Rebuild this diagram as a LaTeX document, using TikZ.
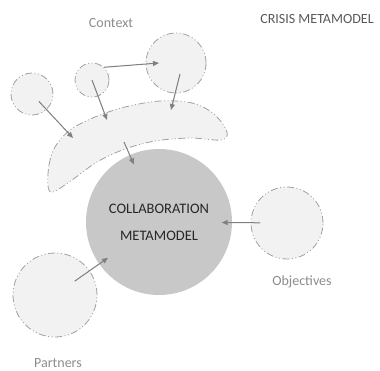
\documentclass[tikz,border=0pt]{standalone}
\usepackage{fontspec}
\setmainfont{Carlito}
\usepackage{tikz}
\usetikzlibrary{arrows.meta,calc}
\definecolor{circlefill}{RGB}{242,242,242}
\definecolor{circleline}{RGB}{160,160,160}
\definecolor{coremodel}{RGB}{200,200,200}
\definecolor{arrowgray}{RGB}{128,128,128}
\definecolor{labelgray}{RGB}{140,140,140}
\definecolor{titlegray}{RGB}{89,89,89}

\begin{document}
\begin{tikzpicture}[x=1pt,y=-1pt,
    dashdotdot/.style={draw=circleline,line width=0.8pt,dash pattern=on 7pt off 2.5pt on 1pt off 2.5pt on 1pt off 2.5pt},
    bubble/.style={circle,dashdotdot,fill=circlefill,inner sep=0pt},
    flow/.style={-{Triangle[length=6pt,width=5pt]},draw=arrowgray,fill=arrowgray,line width=1pt},
    lbl/.style={text=labelgray,font=\fontsize{14}{16}\selectfont}]
    \useasboundingbox (0,0) rectangle (380,370);

    % Context blob
    \draw[dashdotdot,fill=circlefill] plot[smooth cycle,tension=0.55] coordinates {
        (48,186) (49,165) (55,147) (70,130) (95,117) (125,107) (160,101) (192,103)
        (214,114) (227,132) (221,140) (190,138) (155,141) (125,149) (97,162) (72,180) (53,192)};
    \coordinate (sit_a) at (73,138);
    \coordinate (sit_b) at (107,120);
    \coordinate (sit_c) at (171,110);
    \coordinate (sit_out) at (124,142);

    % Context circles
    \node[bubble,minimum size=42pt] (ctx_left) at (32,94) {};
    \node[bubble,minimum size=34pt] (ctx_mid) at (92,80) {};
    \node[bubble,minimum size=60pt] (ctx_top) at (176,63) {};

    % Core and outer circles
    \node[circle,fill=coremodel,inner sep=0pt,minimum size=146pt,align=center,
          font=\fontsize{14.5}{27}\selectfont,text=black!85] (collab) at (159,222) {COLLABORATION\\METAMODEL};
    \node[bubble,minimum size=72pt] (objectives) at (287,223) {};
    \node[bubble,minimum size=84pt] (partners) at (55,295) {};

    % Arrows
    \draw[flow] ($(ctx_left.center)!0.17!(sit_a)$) -- (sit_a);
    \draw[flow] (ctx_mid.center) -- (sit_b);
    \draw[flow] (ctx_mid.47) -- ([xshift=-17pt]ctx_top.center);
    \draw[flow] ([shift={(4,11)}]ctx_top.center) -- (sit_c);
    \draw[flow] (sit_out) -- ($(sit_out)!0.28!(collab.center)$);
    \draw[flow] ($(objectives.center)!0.21!(collab.center)$) -- ($(objectives.center)!0.51!(collab.center)$);
    \draw[flow] ($(partners.center)!0.19!(collab.center)$) -- ($(partners.center)!0.51!(collab.center)$);

    % Labels
    \node[lbl] (lbl_context) at (111,23) {Context};
    \node[lbl,text=titlegray] (lbl_crisis) at (317,19) {CRISIS METAMODEL};
    \node[lbl] (lbl_objectives) at (302,282) {Objectives};
    \node[lbl] (lbl_partners) at (58,363) {Partners};
\end{tikzpicture}
\end{document}
